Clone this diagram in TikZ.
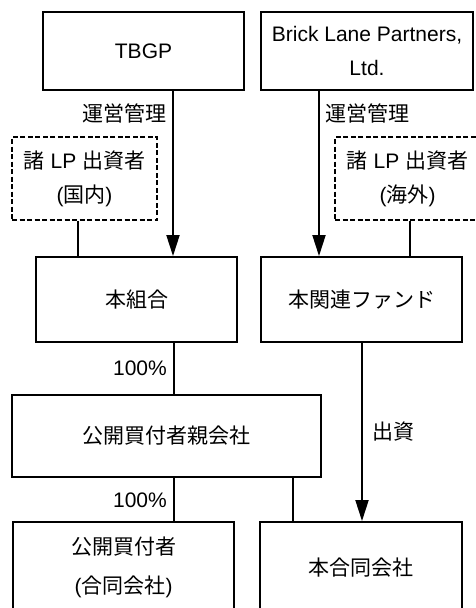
\documentclass[tikz,border=0pt]{standalone}
\usepackage{fontspec}
\setmainfont{Liberation Sans}
\newfontfamily\cjk{Noto Sans CJK JP}
\usetikzlibrary{arrows.meta}
\begin{document}
\begin{tikzpicture}[x=1pt,y=-1pt,
  box/.style={draw, line width=1.9pt, inner sep=0pt, align=center, font=\fontsize{21}{34}\selectfont},
  dbox/.style={box, dash pattern=on 5pt off 2.5pt},
  lbl/.style={inner sep=0pt, font=\fontsize{21}{25}\selectfont},
  conn/.style={line width=1.9pt},
  arr/.style={conn, -{Triangle[length=21pt,width=13pt]}}]
\clip (0,0) rectangle (476,608);
\node[box, minimum width=201pt, minimum height=78pt] (tbgp) at (143.5,51) {TBGP};
\node[box, minimum width=212pt, minimum height=78pt] (blp) at (367,51) {Brick Lane Partners,\\Ltd.};
\node[dbox, minimum width=145pt, minimum height=83pt] (lpd) at (84.5,178.5) {{\cjk 諸} LP {\cjk 出資者}\\({\cjk 国内})};
\node[dbox, minimum width=145pt, minimum height=83pt] (lpf) at (407.5,178.5) {{\cjk 諸} LP {\cjk 出資者}\\({\cjk 海外})};
\node[box, minimum width=201pt, minimum height=85pt] (kumiai) at (136.5,299.5) {\cjk 本組合};
\node[box, minimum width=201pt, minimum height=85pt] (fund) at (361.5,299.5) {\cjk 本関連ファンド};
\node[box, minimum width=309pt, minimum height=82pt] (parent) at (166.5,436) {\cjk 公開買付者親会社};
\node[box, minimum width=221pt, minimum height=91pt, font=\fontsize{21}{39}\selectfont] (buyer) at (123.5,567.5) {{\cjk 公開買付者}\\({\cjk 合同会社})};
\node[box, minimum width=202pt, minimum height=91pt] (llc) at (361,567.5) {\cjk 本合同会社};
\node[lbl, anchor=east] (l1) at (167,113) {\cjk 運営管理};
\node[lbl, anchor=west] (l2) at (325,113) {\cjk 運営管理};
\node[lbl, anchor=east] (p1) at (167,368) {100\%};
\node[lbl, anchor=west] (l3) at (372,432) {\cjk 出資};
\node[lbl, anchor=east] (p2) at (167,500) {100\%};
\coordinate (xa) at (173,0);
\coordinate (xb) at (319,0);
\coordinate (xc) at (78,0);
\coordinate (xd) at (410,0);
\coordinate (xe) at (174,0);
\coordinate (xf) at (362,0);
\coordinate (xg) at (293,0);
\draw[arr] (tbgp.south -| xa) -- (kumiai.north -| xa);
\draw[arr] (blp.south -| xb) -- (fund.north -| xb);
\draw[conn] (lpd.south -| xc) -- (kumiai.north -| xc);
\draw[conn] (lpf.south -| xd) -- (fund.north -| xd);
\draw[conn] (kumiai.south -| xe) -- (parent.north -| xe);
\draw[arr] (fund.south -| xf) -- (llc.north -| xf);
\draw[conn] (parent.south -| xe) -- (buyer.north -| xe);
\draw[conn] (parent.south -| xg) -- (llc.north -| xg);
\end{tikzpicture}
\end{document}
